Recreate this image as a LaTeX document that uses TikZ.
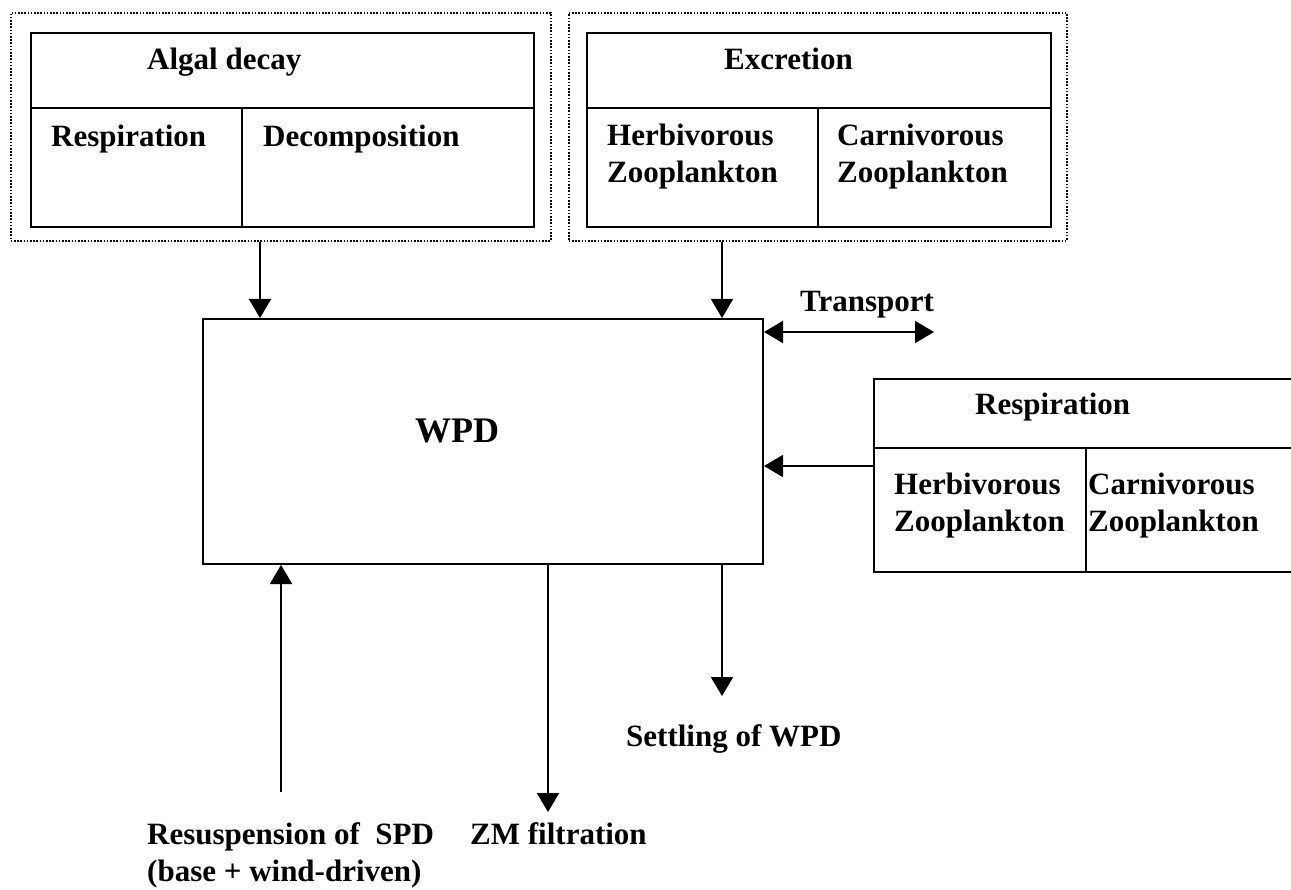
\documentclass[tikz,border=0pt]{standalone}
\usepackage{fontspec}
\setmainfont{Liberation Serif}
\usetikzlibrary{arrows.meta}

\tikzset{
  solidbox/.style={draw, line width=2pt, rectangle, inner sep=0pt},
  dotbox/.style={draw, line width=1.6pt, dash pattern=on 1.6pt off 1.6pt, rectangle, inner sep=0pt},
  rule/.style={line width=2pt},
  flow/.style={line width=2pt, -{Triangle[length=19pt,width=22pt]}},
  flow2/.style={line width=2pt, {Triangle[length=19pt,width=22pt]}-{Triangle[length=19pt,width=22pt]}},
  lbl/.style={anchor=base west, inner sep=0pt, font=\fontsize{31}{37}\selectfont\bfseries},
  big/.style={anchor=base west, inner sep=0pt, font=\fontsize{36}{42}\selectfont\bfseries},
}

\begin{document}
\begin{tikzpicture}[x=1pt, y=-1pt]
\useasboundingbox (0,0) rectangle (1291,890);
\fill[white] (0,0) rectangle (1291,890);

% --- algal decay group ---
\node[dotbox, minimum width=540pt, minimum height=228pt, anchor=north west] (algalout) at (10,12) {};
\node[solidbox, minimum width=503pt, minimum height=194pt, anchor=north west] (algal) at (30,32) {};
\coordinate (algalmid) at (30,108);
\coordinate (algaldiv) at (242,0);
\draw[rule] (algalmid) -- (algalmid -| algal.east);
\draw[rule] (algalmid -| algaldiv) -- (algal.south -| algaldiv);
\node[lbl] (tAlgal) at (147,70) {Algal decay};
\node[lbl] (tResp1) at (51,147) {Respiration};
\node[lbl] (tDecomp) at (263,147) {Decomposition};

% --- excretion group ---
\node[dotbox, minimum width=498pt, minimum height=228pt, anchor=north west] (excrout) at (568,12) {};
\node[solidbox, minimum width=464pt, minimum height=194pt, anchor=north west] (excr) at (586,32) {};
\coordinate (excrmid) at (586,108);
\coordinate (excrdiv) at (818,0);
\draw[rule] (excrmid) -- (excrmid -| excr.east);
\draw[rule] (excrmid -| excrdiv) -- (excr.south -| excrdiv);
\node[lbl] (tExcr) at (724,70) {Excretion};
\node[lbl] (tHerb1a) at (607,146) {Herbivorous};
\node[lbl] (tHerb1b) at (607,183) {Zooplankton};
\node[lbl] (tCarn1a) at (837,146) {Carnivorous};
\node[lbl] (tCarn1b) at (837,183) {Zooplankton};

% --- central pool ---
\node[solidbox, minimum width=560pt, minimum height=245pt, anchor=north west] (wpd) at (202,318) {};
\node[big] (tWPD) at (415,443) {WPD};

% --- zooplankton respiration ---
\node[solidbox, minimum width=430pt, minimum height=193pt, anchor=north west] (zresp) at (873,378) {};
\coordinate (zrespmid) at (873,448);
\coordinate (zrespdiv) at (1086,0);
\draw[rule] (zrespmid) -- (zrespmid -| zresp.east);
\draw[rule] (zrespmid -| zrespdiv) -- (zresp.south -| zrespdiv);
\node[lbl] (tResp2) at (975,415) {Respiration};
\node[lbl] (tHerb2a) at (894,494) {Herbivorous};
\node[lbl] (tHerb2b) at (894,531) {Zooplankton};
\node[lbl] (tCarn2a) at (1088,494) {Carnivorous};
\node[lbl] (tCarn2b) at (1088,531) {Zooplankton};

% --- flows into the pool ---
\coordinate (xa) at (260,0);
\coordinate (xb) at (722,0);
\draw[flow] (algalout.south -| xa) -- (wpd.north -| xa);
\draw[flow] (excrout.south -| xb) -- (wpd.north -| xb);
\coordinate (yz) at (0,466);
\draw[flow] (zresp.west |- yz) -- (wpd.east |- yz);

% --- transport ---
\coordinate (tend) at (934,332);
\draw[flow2] (wpd.east |- tend) -- (tend);
\node[lbl] (tTrans) at (800,312) {Transport};

% --- resuspension ---
\coordinate (resbot) at (281,792);
\draw[flow] (resbot) -- (wpd.south -| resbot);
\node[lbl] (tResA) at (147,844) {Resuspension of\ \ SPD};
\node[lbl] (tResB) at (147,881) {(base + wind-driven)};

% --- ZM filtration ---
\coordinate (zmend) at (548,812);
\draw[flow] (wpd.south -| zmend) -- (zmend);
\node[lbl] (tZM) at (470,844) {ZM filtration};

% --- settling ---
\coordinate (setend) at (722,696);
\draw[flow] (wpd.south -| setend) -- (setend);
\node[lbl] (tSet) at (626,746) {Settling of WPD};
\end{tikzpicture}
\end{document}
